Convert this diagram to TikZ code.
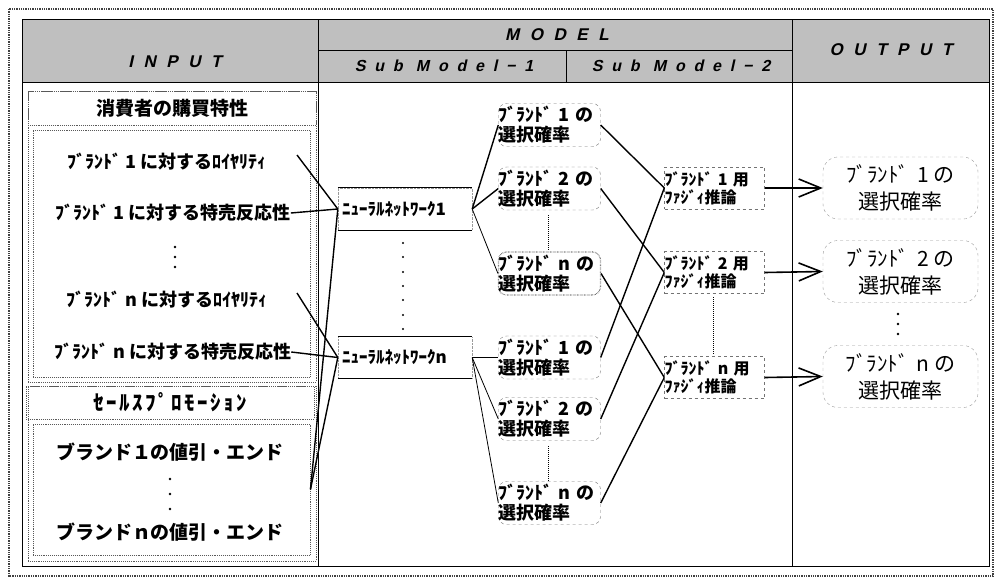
\documentclass[tikz,border=0pt]{standalone}
\usepackage{fontspec}
\usetikzlibrary{arrows.meta}
\newfontfamily\jp{Noto Sans CJK JP}
\newfontfamily\hdr[LetterSpace=62,FakeSlant=0.22]{Liberation Sans}
\newfontfamily\hdrs[LetterSpace=55,FakeSlant=0.22]{Liberation Sans}
\begin{document}
\begin{tikzpicture}[x=1pt,y=-1pt,
  itemtxt/.style={font=\jp\bfseries\fontsize{18}{20}\selectfont, inner sep=0},
  bigtxt/.style={font=\jp\bfseries\fontsize{19}{22}\selectfont, inner sep=0},
  hdrtxt/.style={font=\hdr\bfseries\fontsize{17}{20}\selectfont, inner sep=0},
  subtxt/.style={font=\hdrs\bfseries\fontsize{16}{20}\selectfont, inner sep=0},
  grp/.style={draw=black!65, densely dotted, line width=0.9pt, inner sep=0},
  nnbox/.style={draw=black!40, densely dotted, minimum width=134, minimum height=42, inner sep=4, text width=126, align=left, font=\jp\bfseries\fontsize{17}{19}\selectfont},
  prob/.style={draw=black!55, dashed, thin, rounded corners=8, minimum height=43, inner sep=0, text width=102, align=left, font=\jp\bfseries\fontsize{18}{20}\selectfont},
  probdot/.style={prob, densely dotted, line width=1.1pt, draw=black!75},
  fuzzy/.style={draw=black!55, dashed, thin, minimum height=42, inner sep=0, text width=100, align=left, font=\jp\bfseries\fontsize{16}{18}\selectfont},
  outbox/.style={draw=black!40, dashed, thin, rounded corners=15, minimum width=155, minimum height=62, inner sep=0, align=center, font=\jp\fontsize{21}{27}\selectfont},
  conn/.style={line width=1.4pt},
  connthin/.style={line width=0.8pt},
  outarrow/.style={line width=1.6pt, -{Straight Barb[length=22pt,width=18pt,line width=1.6pt]}},
  dotcol/.style={densely dotted, line width=1pt}
]
\useasboundingbox (0,0) rectangle (996,579);
% outer border
\draw[densely dotted, line width=1.3pt, black!75] (9,9) rectangle (993,576);
% header shading and table
\fill[black!25] (22,19) rectangle (989,82);
\draw[line width=0.8pt] (22,19) rectangle (989,566);
\draw[line width=0.8pt] (22,82) -- (989,82);
\draw[line width=0.8pt] (318,19) -- (318,566);
\draw[line width=0.8pt] (792,19) -- (792,566);
\draw[line width=0.8pt] (318,50) -- (792,50);
\draw[line width=0.8pt] (566,50) -- (566,82);
% header texts
\node[hdrtxt] (hin) at (175,62) {INPUT};
\node[hdrtxt] (hmod) at (557,35) {MODEL};
\node[subtxt] (hs1) at (444,66) {Sub Model−1};
\node[subtxt] (hs2) at (681,66) {Sub Model−2};
\node[hdrtxt] (hout) at (891,50) {OUTPUT};

% INPUT groups
\node[grp, minimum width=288, minimum height=291] (cgrp) at (172,236.5) {};
\node[grp, minimum width=288, minimum height=34, bigtxt] (ctitle) at (172,108) {消費者の購買特性};
\node[grp, minimum width=277, minimum height=247] (cbox) at (171.5,253.5) {};
\node[itemtxt] (l1) at (167,162) {ﾌﾞﾗﾝﾄﾞ 1 に対するﾛｲﾔﾘﾃｨ};
\node[itemtxt] (s1) at (173,213) {ﾌﾞﾗﾝﾄﾞ 1 に対する特売反応性};
\node[itemtxt] (ln) at (167,300) {ﾌﾞﾗﾝﾄﾞ n に対するﾛｲﾔﾘﾃｨ};
\node[itemtxt] (sn) at (173,352) {ﾌﾞﾗﾝﾄﾞ n に対する特売反応性};
\foreach \yy in {247,257,267} \fill (175,\yy) circle (1.3);

\node[grp, minimum width=288, minimum height=175] (sgrp) at (172,473.5) {};
\node[grp, minimum width=288, minimum height=33, font=\jp\bfseries\fontsize{21}{22}\selectfont, inner sep=0] (stitle) at (170,402.5) {\addfontfeature{LetterSpace=12}ｾｰﾙｽﾌﾟﾛﾓｰｼｮﾝ};
\node[grp, minimum width=277, minimum height=131] (spbox) at (171.5,489.5) {};
\node[bigtxt] (d1) at (170,452) {ブランド１の値引・エンド};
\node[bigtxt] (dn) at (170,532) {ブランドｎの値引・エンド};
\foreach \yy in {479,494,509} \fill (170,\yy) circle (1.3);

% MODEL: neural networks
\node[nnbox] (nn1) at (405,209) {ﾆｭｰﾗﾙﾈｯﾄﾜｰｸ1};
\node[nnbox] (nnn) at (405,357.5) {ﾆｭｰﾗﾙﾈｯﾄﾜｰｸn};
\draw[line width=0.7pt] (nn1.north west) -- (nn1.north east);
\draw[line width=0.7pt] (nn1.south west) -- (nn1.south east);
\draw[line width=0.7pt] (nnn.north west) -- (nnn.north east);
\draw[line width=0.7pt] (nnn.south west) -- (nnn.south east);
\foreach \yy in {243,257,272,286,300,315,329} \fill (403,\yy) circle (1.1);

% Sub model 1 probability boxes
\node[prob] (pa1) at (549.5,125) {ﾌﾞﾗﾝﾄﾞ 1 の\\選択確率};
\node[prob] (pa2) at (549.5,188.5) {ﾌﾞﾗﾝﾄﾞ 2 の\\選択確率};
\node[probdot] (pan) at (549.5,273.5) {ﾌﾞﾗﾝﾄﾞ n の\\選択確率};
\node[prob] (pb1) at (549.5,357.5) {ﾌﾞﾗﾝﾄﾞ 1 の\\選択確率};
\node[prob] (pb2) at (549.5,419) {ﾌﾞﾗﾝﾄﾞ 2 の\\選択確率};
\node[prob] (pbn) at (549.5,503) {ﾌﾞﾗﾝﾄﾞ n の\\選択確率};
\draw[dotcol] (548,215) -- (548,251);
\draw[dotcol] (548,446) -- (548,482);

% Sub model 2 fuzzy boxes
\node[fuzzy] (f1) at (714.5,188) {ﾌﾞﾗﾝﾄﾞ 1 用\\ﾌｧｼﾞｨ推論};
\node[fuzzy] (f2) at (714.5,272.5) {ﾌﾞﾗﾝﾄﾞ 2 用\\ﾌｧｼﾞｨ推論};
\node[fuzzy] (fn) at (714.5,377.5) {ﾌﾞﾗﾝﾄﾞ n 用\\ﾌｧｼﾞｨ推論};
\draw[dotcol] (713,297) -- (713,355);

% OUTPUT boxes
\node[outbox] (o1) at (900.5,188) {ﾌﾞﾗﾝﾄﾞ\, 1 の\\選択確率};
\node[outbox] (o2) at (900.5,271.5) {ﾌﾞﾗﾝﾄﾞ\, 2 の\\選択確率};
\node[outbox] (on) at (900.5,376.5) {ﾌﾞﾗﾝﾄﾞ\, n の\\選択確率};
\foreach \yy in {314,324,334} \fill (898,\yy) circle (1.3);

% input connectors
\coordinate (l1p) at (297,155);
\coordinate (lnp) at (297,293);
\draw[conn] (l1p) -- (nn1.west);
\draw[conn] (s1.east) -- (nn1.west);
\draw[conn] (lnp) -- (nnn.west);
\draw[conn] (sn.east) -- (nnn.west);
\draw[conn] (spbox.east) -- (nn1.west);
\draw[conn] (spbox.east) -- (nnn.west);

% NN to probability boxes
\draw[conn] (nn1.east) -- (pa1.west);
\draw[conn] (nn1.east) -- (pa2.west);
\draw[connthin] (nn1.east) -- (pan.west);
\draw[connthin] (nnn.east) -- (pb1.west);
\draw[connthin] (nnn.east) -- (pb2.west);
\draw[connthin] (nnn.east) -- (pbn.west);

% probability boxes to fuzzy inference
\draw[conn] (pa1.east) -- (f1.west);
\draw[conn] (pa2.east) -- (f2.west);
\draw[conn] (pan.east) -- (fn.west);
\draw[conn] (pb1.east) -- (f1.west);
\draw[conn] (pb2.east) -- (f2.west);
\draw[conn] (pbn.east) -- (fn.west);

% fuzzy to output
\draw[outarrow] (f1.east) -- (o1.west);
\draw[outarrow] (f2.east) -- (o2.west);
\draw[outarrow] (fn.east) -- (on.west);
\end{tikzpicture}
\end{document}
